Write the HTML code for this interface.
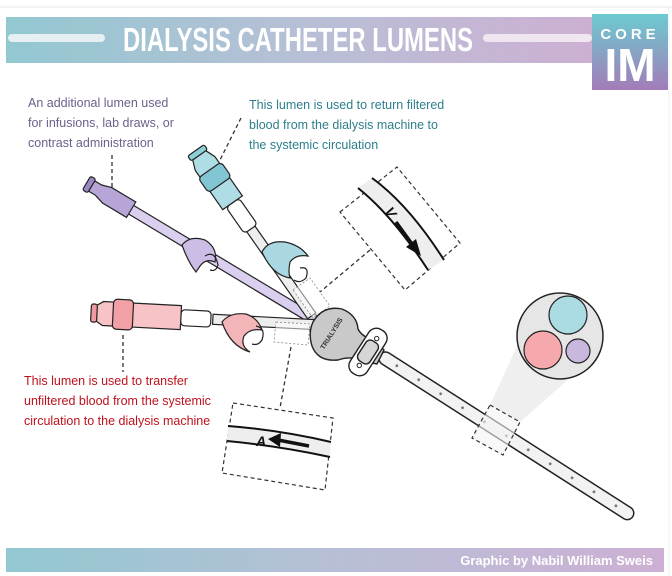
<!DOCTYPE html>
<html><head><meta charset="utf-8"><style>
html,body{margin:0;padding:0;background:#fff;}
svg{display:block;font-family:"Liberation Sans",sans-serif;}
</style></head><body>
<svg width="672" height="576" viewBox="0 0 672 576" xmlns="http://www.w3.org/2000/svg">
<defs>
<linearGradient id="ban" x1="0" x2="1" y1="0" y2="0"><stop offset="0" stop-color="#92c8d1"/><stop offset="0.5" stop-color="#b7bfd6"/><stop offset="1" stop-color="#cdb0d3"/></linearGradient>
<linearGradient id="core" x1="0" x2="0" y1="0" y2="1"><stop offset="0" stop-color="#6ccbd1"/><stop offset="1" stop-color="#a37cb8"/></linearGradient>
</defs>
<line x1="0" y1="7" x2="672" y2="7" stroke="#e3e8ec" stroke-width="1"/>
<line x1="669" y1="7" x2="669" y2="576" stroke="#eef0f2" stroke-width="1"/>
<rect x="6" y="17" width="588" height="46" fill="url(#ban)"/>
<rect x="8" y="34" width="97" height="8" rx="4" fill="#e6f0f2"/>
<rect x="483" y="34" width="109" height="8" rx="4" fill="#efe6f0"/>
<text x="123" y="51" font-size="33" font-weight="bold" fill="#fff" textLength="350" lengthAdjust="spacingAndGlyphs">DIALYSIS CATHETER LUMENS</text>
<rect x="592" y="14" width="76" height="76" fill="url(#core)"/>
<text x="630" y="39" text-anchor="middle" font-size="15" font-weight="bold" fill="#fff" letter-spacing="4">CORE</text>
<text x="630" y="81" text-anchor="middle" font-size="46" font-weight="bold" fill="#fff">IM</text>

<g font-size="12.5">
<text x="28" y="107" fill="#6e5f8c">An additional lumen used</text>
<text x="28" y="127" fill="#6e5f8c">for infusions, lab draws, or</text>
<text x="28" y="147" fill="#6e5f8c">contrast administration</text>
<text x="249" y="109" fill="#2d7f8b">This lumen is used to return filtered</text>
<text x="249" y="129" fill="#2d7f8b">blood from the dialysis machine to</text>
<text x="249" y="149" fill="#2d7f8b">the systemic circulation</text>
<text x="24" y="385" fill="#c0121c">This lumen is used to transfer</text>
<text x="24" y="405" fill="#c0121c">unfiltered blood from the systemic</text>
<text x="24" y="425" fill="#c0121c">circulation to the dialysis machine</text>
</g>

<g stroke="#333" stroke-width="1.3" stroke-dasharray="4 3" fill="none">
<line x1="112" y1="155" x2="112" y2="195"/>
<line x1="241" y1="118" x2="219" y2="162"/>
<line x1="123" y1="335" x2="123" y2="372"/>
<line x1="370" y1="250" x2="320" y2="292"/>
<line x1="291" y1="347" x2="280" y2="408"/>
</g>

<polygon points="490,405 520,422 596,355 528,322" fill="#efefef"/>
<g transform="translate(380 355) rotate(32.6)">
<rect x="0" y="-6.5" width="300" height="13" rx="6.5" fill="#f2f2f2" stroke="#222" stroke-width="1.5"/>
<g fill="#777"><circle cx="20" cy="0" r="1.4"/><circle cx="46" cy="0" r="1.4"/><circle cx="72" cy="0" r="1.4"/><circle cx="98" cy="0" r="1.4"/><circle cx="124" cy="0" r="1.4"/><circle cx="150" cy="0" r="1.4"/><circle cx="176" cy="0" r="1.4"/><circle cx="202" cy="0" r="1.4"/><circle cx="228" cy="0" r="1.4"/><circle cx="254" cy="0" r="1.4"/><circle cx="280" cy="0" r="1.4"/></g>
</g>
<polygon points="490,405 520,422 503,455 472,438" fill="#f3f3f3" fill-opacity="0.6" stroke="#333" stroke-width="1.2" stroke-dasharray="4 3"/>
<circle cx="560" cy="336" r="43" fill="#e6e6e6" stroke="#222" stroke-width="1.5"/>
<circle cx="568" cy="315" r="19" fill="#abdbe3" stroke="#222" stroke-width="1.2"/>
<circle cx="543" cy="350" r="19" fill="#f6a9ac" stroke="#222" stroke-width="1.2"/>
<circle cx="578" cy="351" r="12" fill="#c8b8de" stroke="#222" stroke-width="1.2"/>

<g transform="translate(90 185) rotate(31)">
<rect x="40" y="-5" width="240" height="10" fill="#dbcff0" stroke="#222" stroke-width="1.2"/>
<path d="M0,-6 L10,-6 L20,-9 L48,-9 L48,9 L20,9 L10,6 L0,6 Z" fill="#b8a5d8" stroke="#222" stroke-width="1.2"/>
<rect x="-4" y="-8" width="6" height="16" rx="2" fill="#9c88c3" stroke="#222" stroke-width="1.2"/>
</g>
<path d="M182,245 Q190,235 205,240 Q218,248 215,262 Q206,258 200,266 L196,272 Q188,262 182,245 Z" fill="#cbbde6" stroke="#222" stroke-width="1.2"/>
<path d="M205,256 Q215,250 218,265 Q216,272 210,270" fill="none" stroke="#222" stroke-width="1.2"/>

<g transform="translate(197 152) rotate(55)">
<rect x="90" y="-5" width="110" height="10" fill="#eeeeee" stroke="#222" stroke-width="1.2"/>
<rect x="62" y="-8" width="32" height="16" rx="4" fill="#fff" stroke="#222" stroke-width="1.2"/>
<path d="M4,-8 L14,-12 L62,-12 L62,12 L14,12 L4,8 Z" fill="#afdde5" stroke="#222" stroke-width="1.2"/>
<rect x="22" y="-14" width="18" height="28" rx="4" fill="#82c6d3" stroke="#222" stroke-width="1.2"/>
<rect x="-2" y="-10" width="6" height="20" rx="2" fill="#8ccfd9" stroke="#222" stroke-width="1.2"/>
</g>
<path d="M262,252 Q268,240 285,242 Q300,245 308,256 Q296,254 290,262 Q288,272 290,278 Q272,275 262,252 Z" fill="#a9d8e3" stroke="#222" stroke-width="1.2"/>
<path d="M300,268 Q310,266 306,278 Q300,284 294,280" fill="none" stroke="#222" stroke-width="1.2"/>

<g transform="translate(93 313) rotate(3)">
<rect x="120" y="-5" width="110" height="10" fill="#eeeeee" stroke="#222" stroke-width="1.2"/>
<rect x="88" y="-8" width="30" height="16" rx="4" fill="#fff" stroke="#222" stroke-width="1.2"/>
<path d="M2,-7 L10,-12 L88,-12 L88,12 L10,12 L2,7 Z" fill="#f7c3c6" stroke="#222" stroke-width="1.2"/>
<rect x="20" y="-15" width="20" height="30" rx="4" fill="#f2a0a5" stroke="#222" stroke-width="1.2"/>
<rect x="-2" y="-9" width="6" height="18" rx="2" fill="#ee9aa0" stroke="#222" stroke-width="1.2"/>
</g>
<path d="M222,322 Q230,312 246,314 Q258,318 262,330 Q250,328 244,336 Q240,346 250,352 Q230,346 222,322 Z" fill="#f4b5b8" stroke="#222" stroke-width="1.2"/>
<path d="M256,326 Q266,328 262,340 Q258,346 252,344" fill="none" stroke="#222" stroke-width="1.2"/>

<g stroke="#888" stroke-width="0.8" stroke-dasharray="2 2" fill="#fff" fill-opacity="0.5">
<polygon points="293,290 310,278 330,306 313,318"/>
<polygon points="276,322 310,324 308,345 274,342"/>
</g>

<path d="M313,322 Q323,305 342,309 Q357,315 358,329 Q362,337 374,340 L384,350 L377,364 L366,362 Q352,355 338,360 Q318,362 312,346 Q308,333 313,322 Z" fill="#c9c9c9" stroke="#222" stroke-width="1.4"/>
<text x="0" y="0" font-size="7" font-weight="bold" fill="#333" transform="translate(324 350) rotate(-58)">TRIALYSIS</text>
<g transform="translate(368 352) rotate(-57)">
<rect x="-26" y="-10" width="52" height="20" rx="9" fill="#fff" stroke="#222" stroke-width="1.4"/>
<circle cx="-16" cy="0" r="2.2" fill="#fff" stroke="#222"/>
<circle cx="16" cy="0" r="2.2" fill="#fff" stroke="#222"/>
<rect x="-12" y="-7" width="24" height="14" rx="5" fill="#d6d6d6" stroke="#222" stroke-width="1.4"/>
</g>

<polygon points="340,212 397,167 460,243 405,290" fill="#fff" stroke="#333" stroke-width="1.2" stroke-dasharray="4 3"/>
<path d="M358,188 Q393,216 428,270 L444,260 Q409,205 372,178 Z" fill="#eeeeee"/>
<path d="M358,188 Q393,216 428,270" fill="none" stroke="#111" stroke-width="2"/>
<path d="M372,178 Q409,205 444,260" fill="none" stroke="#111" stroke-width="2"/>
<text x="0" y="0" font-size="14" font-style="italic" font-weight="bold" fill="#111" transform="translate(384 211) rotate(57)">V</text>
<line x1="396" y1="222" x2="412" y2="244" stroke="#111" stroke-width="3.5"/>
<polygon points="421,256 406,247 416,239" fill="#111"/>

<polygon points="233,403 333,418 325,490 222,473" fill="#fff" stroke="#333" stroke-width="1.2" stroke-dasharray="4 3"/>
<path d="M228,426 Q280,430 331,442 L330,457 Q280,446 227,441 Z" fill="#eeeeee"/>
<path d="M228,426 Q280,430 331,442" fill="none" stroke="#111" stroke-width="2"/>
<path d="M227,441 Q280,446 330,457" fill="none" stroke="#111" stroke-width="2"/>
<text x="256" y="446" font-size="14" font-style="italic" font-weight="bold" fill="#111">A</text>
<line x1="278" y1="440" x2="309" y2="446" stroke="#111" stroke-width="3.5"/>
<polygon points="268,439 281,433 280,447" fill="#111"/>

<rect x="6" y="548" width="658" height="24" fill="url(#ban)"/>
<text x="653" y="565" text-anchor="end" font-size="13" font-weight="bold" fill="#fff">Graphic by Nabil William Sweis</text>
</svg>
</body></html>
